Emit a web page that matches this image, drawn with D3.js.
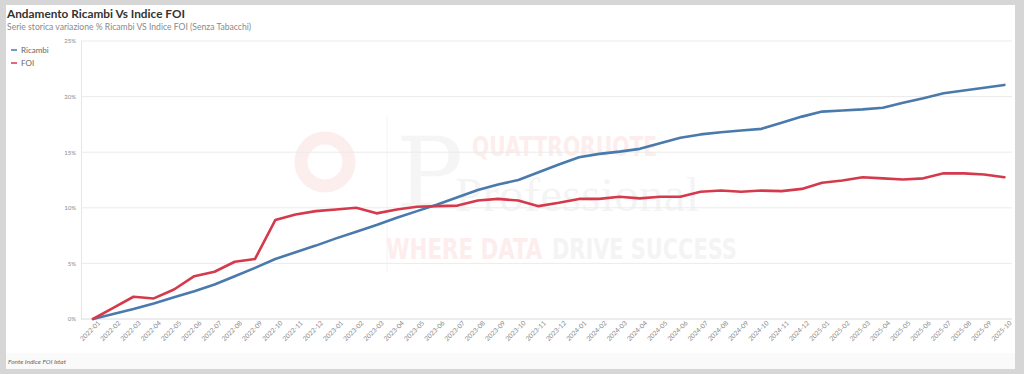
<!DOCTYPE html>
<html>
<head>
<meta charset="utf-8">
<script src="https://cdn.jsdelivr.net/npm/d3@7"></script>
<style>
  html, body { margin: 0; padding: 0; background: #d6d6d6; }
  svg { display: block; }
</style>
</head>
<body>
<div id="chart"></div>
<script>
// months on the x axis
const months = [
  "2022-01","2022-02","2022-03","2022-04","2022-05","2022-06","2022-07","2022-08","2022-09","2022-10","2022-11","2022-12",
  "2023-01","2023-02","2023-03","2023-04","2023-05","2023-06","2023-07","2023-08","2023-09","2023-10","2023-11","2023-12",
  "2024-01","2024-02","2024-03","2024-04","2024-05","2024-06","2024-07","2024-08","2024-09","2024-10","2024-11","2024-12",
  "2025-01","2025-02","2025-03","2025-04","2025-05","2025-06","2025-07","2025-08","2025-09","2025-10"
];

// % change vs 2022-01
const ricambi = [
  0, 0.45, 0.9, 1.4, 1.95, 2.5, 3.1, 3.85, 4.6, 5.4, 6.0, 6.6,
  7.25, 7.85, 8.45, 9.1, 9.7, 10.3, 10.95, 11.6, 12.1, 12.5, 13.2, 13.9,
  14.55, 14.85, 15.05, 15.3, 15.8, 16.3, 16.6, 16.8, 16.95, 17.1, 17.65, 18.2,
  18.65, 18.75, 18.85, 19.0, 19.45, 19.85, 20.3, 20.55, 20.8, 21.05
];
const foi = [
  0, 1.0, 2.0, 1.85, 2.65, 3.85, 4.25, 5.15, 5.4, 8.9, 9.4, 9.7,
  9.85, 10.0, 9.5, 9.85, 10.1, 10.15, 10.2, 10.65, 10.8, 10.65, 10.15, 10.45,
  10.8, 10.8, 11.0, 10.85, 11.0, 11.0, 11.45, 11.55, 11.45, 11.55, 11.5, 11.7,
  12.25, 12.45, 12.75, 12.65, 12.55, 12.65, 13.1, 13.1, 13.0, 12.75
];

const yTicks = [0, 5, 10, 15, 20, 25];

const series = [
  { name: "Ricambi", values: ricambi, color: "#4a7aab" },
  { name: "FOI", values: foi, color: "#d43a4c" }
];

const width = 1024, height = 374;
const margin = { top: 41, right: 19, bottom: 55, left: 81 };

const svg = d3.select("#chart")
  .append("svg")
  .attr("width", width)
  .attr("height", height);

// card
svg.append("rect")
  .attr("x", 6).attr("y", 5)
  .attr("width", 1009).attr("height", 364)
  .attr("fill", "#ffffff");
svg.append("rect")
  .attr("x", 6).attr("y", 353)
  .attr("width", 1009).attr("height", 16)
  .attr("fill", "#fafafa");

// title + subtitle
svg.append("text")
  .attr("x", 7).attr("y", 18)
  .attr("font-family", "Lato, 'Open Sans', sans-serif")
  .attr("font-weight", "bold")
  .attr("font-size", 11.8)
  .attr("fill", "#333")
  .text("Andamento Ricambi Vs Indice FOI");
svg.append("text")
  .attr("x", 7).attr("y", 30)
  .attr("font-family", "Lato, 'Open Sans', sans-serif")
  .attr("font-size", 8.6)
  .attr("fill", "#8a8a8a")
  .text("Serie storica variazione % Ricambi VS Indice FOI (Senza Tabacchi)");

// footer
svg.append("text")
  .attr("x", 8).attr("y", 364)
  .attr("font-family", "Lato, 'Open Sans', sans-serif")
  .attr("font-style", "italic")
  .attr("font-size", 6.5)
  .attr("fill", "#666")
  .text("Fonte Indice FOI Istat");

// scales
const x = d3.scalePoint()
  .domain(months)
  .range([93, width - margin.right - 0.6]);

const y = d3.scaleLinear()
  .domain([0, 25])
  .range([height - margin.bottom, margin.top]);

// watermark (very faint, behind everything)
const wm = svg.append("g").attr("pointer-events", "none");
wm.append("circle")
  .attr("cx", 325).attr("cy", 162).attr("r", 24)
  .attr("fill", "none").attr("stroke", "#fdeeee").attr("stroke-width", 13);
wm.append("line")
  .attr("x1", 387).attr("x2", 387).attr("y1", 115).attr("y2", 272)
  .attr("stroke", "#f4f4f4");
wm.append("text")
  .attr("x", 396).attr("y", 208)
  .attr("font-family", "'DejaVu Serif', serif")
  .attr("font-size", 100)
  .attr("fill", "#f5f5f5")
  .text("P");
wm.append("text")
  .attr("transform", "translate(472,156) scale(0.78,1)")
  .attr("font-family", "'DejaVu Sans', sans-serif")
  .attr("font-weight", "bold")
  .attr("font-size", 26)
  .attr("fill", "#fdeded")
  .text("QUATTRORUOTE");
wm.append("text")
  .attr("transform", "translate(455,211) scale(1.03,1)")
  .attr("font-family", "'Liberation Serif', serif")
  .attr("font-size", 48)
  .attr("fill", "#f4f4f4")
  .text("Professional");
wm.append("text")
  .attr("transform", "translate(386,259) scale(0.82,1)")
  .attr("font-family", "'DejaVu Sans Condensed', sans-serif")
  .attr("font-weight", "bold")
  .attr("font-size", 29)
  .attr("fill", "#fdeded")
  .text("WHERE DATA");
wm.append("text")
  .attr("transform", "translate(552,259) scale(0.8,1)")
  .attr("font-family", "'DejaVu Sans Condensed', sans-serif")
  .attr("font-weight", "bold")
  .attr("font-size", 29)
  .attr("fill", "#f4f4f4")
  .text("DRIVE SUCCESS");

// grid + y axis
const yAxis = svg.append("g")
  .attr("transform", `translate(${margin.left},0)`)
  .call(d3.axisLeft(y).tickValues(yTicks).tickSize(0).tickPadding(5).tickFormat(d => d + "%"));
yAxis.select(".domain").attr("stroke", "#e6e6e6");
yAxis.selectAll("text")
  .attr("font-family", "Lato, 'Open Sans', sans-serif")
  .attr("font-size", 6)
  .attr("fill", "#888");

svg.append("g")
  .selectAll("line")
  .data(yTicks.filter(d => d > 0))
  .enter()
  .append("line")
  .attr("x1", margin.left).attr("x2", width - margin.right + 7)
  .attr("y1", d => y(d)).attr("y2", d => y(d))
  .attr("stroke", "#ebebeb");

// x axis
const xAxis = svg.append("g")
  .attr("transform", `translate(0,${y(0)})`)
  .call(d3.axisBottom(x).tickSize(0).tickPadding(5));
xAxis.select(".domain")
  .attr("d", `M${margin.left},0H${width - margin.right + 7}`)
  .attr("stroke", "#d9d9d9");
xAxis.selectAll("text")
  .attr("font-family", "Lato, 'Open Sans', sans-serif")
  .attr("font-size", 6.6)
  .attr("fill", "#888")
  .attr("text-anchor", "end")
  .attr("dx", "0.3em")
  .attr("dy", "0.5em")
  .attr("transform", "rotate(-45)");

// lines
const line = d3.line()
  .x((d, i) => x(months[i]))
  .y(d => y(d));

svg.append("g")
  .selectAll("path")
  .data(series)
  .enter()
  .append("path")
  .attr("d", d => line(d.values))
  .attr("fill", "none")
  .attr("stroke", d => d.color)
  .attr("stroke-width", 2.6)
  .attr("stroke-linejoin", "round")
  .attr("stroke-linecap", "round");

// legend
const legend = svg.append("g")
  .selectAll("g")
  .data(series)
  .enter()
  .append("g")
  .attr("transform", (d, i) => `translate(11,${50 + i * 13})`);
legend.append("line")
  .attr("x1", 0).attr("x2", 6)
  .attr("stroke", d => d.color)
  .attr("stroke-width", 1.5);
legend.append("text")
  .attr("x", 10).attr("y", 3)
  .attr("font-family", "Lato, 'Open Sans', sans-serif")
  .attr("font-size", 8)
  .attr("fill", "#666")
  .text(d => d.name);
</script>
</body>
</html>
